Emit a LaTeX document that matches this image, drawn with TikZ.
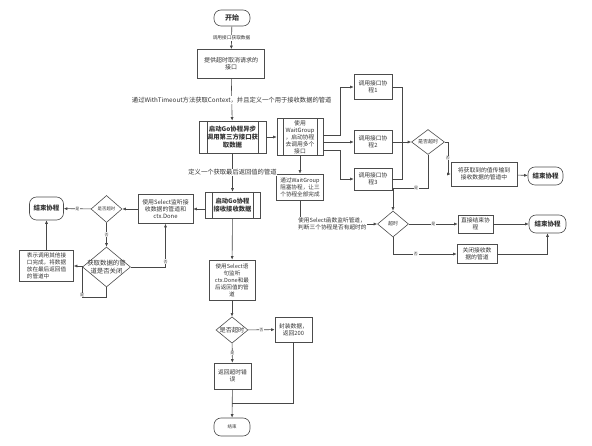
\documentclass[tikz,border=0pt]{standalone}
\usepackage{fontspec}
\setmainfont{Noto Sans CJK SC}
\usetikzlibrary{arrows.meta}
\usetikzlibrary{shapes.geometric}

\tikzset{
	box/.style={draw=black!70, line width=0.6pt, text=black!80, align=center,
		inner sep=1pt, font=\fontsize{6}{7.4}\selectfont},
	pill/.style={box, rounded corners=7pt, font=\fontsize{6.5}{7.5}\selectfont\bfseries},
	subproc/.style={box, path picture={
		\draw[draw=black!70, line width=0.6pt]
			([xshift=#1]path picture bounding box.north west) -- ([xshift=#1]path picture bounding box.south west)
			([xshift=-#1]path picture bounding box.north east) -- ([xshift=-#1]path picture bounding box.south east);}},
	subproc/.default=7pt,
	decide/.style={box, diamond, aspect=1.2, inner sep=0pt, font=\fontsize{5}{6}\selectfont},
	lbl/.style={fill=white, text=black!75, inner sep=0.6pt, font=\fontsize{4}{4.5}\selectfont},
	txt/.style={fill=white, text=black!80, inner sep=0.8pt, align=center, font=\fontsize{6.3}{7.5}\selectfont}
}

\begin{document}
\begin{tikzpicture}[x=1pt,y=-1pt,>={Latex[length=3.5pt,width=3pt]},line width=0.6pt,draw=black!72]
\useasboundingbox (0,0) rectangle (592,446);

\node[pill, minimum width=36, minimum height=16, font=\fontsize{7}{8}\selectfont\bfseries] (start) at (232,18) {开始};
\node[box, minimum width=67, minimum height=29] (provide) at (231,64) {提供超时取消请求的\\接口};
\node[subproc=8pt, minimum width=67, minimum height=32, font=\fontsize{6.4}{7.8}\selectfont\bfseries] (async) at (232.5,137) {启动Go协程异步\\调用第三方接口获\\取数据};
\node[subproc=6pt, minimum width=46, minimum height=37, font=\fontsize{5.8}{6.9}\selectfont] (waitgrp) at (300,137) {使用\\WaitGroup\\，启动协程\\去调用多个\\接口};
\node[box, minimum width=47, minimum height=26, font=\fontsize{5.6}{7}\selectfont] (block) at (300,187) {通过WaitGroup\\阻塞协程，让三\\个协程全部完成};

\node[box, minimum width=38, minimum height=25, font=\fontsize{5.8}{7.2}\selectfont] (call1) at (373,87) {调用接口协\\程1};
\node[box, minimum width=38, minimum height=23, font=\fontsize{5.8}{7.2}\selectfont] (call2) at (373,142) {调用接口协\\程2};
\node[box, minimum width=38, minimum height=22, font=\fontsize{5.8}{7.2}\selectfont] (call3) at (373,179) {调用接口协\\程3};
\node[decide, minimum width=33, minimum height=25] (chk) at (428,142) {是否超时};
\node[box, minimum width=66, minimum height=24, font=\fontsize{5.8}{7.2}\selectfont] (pass) at (484,174) {将获取到的值传输到\\接收数据的管道中};
\node[pill, minimum width=35, minimum height=18] (end1) at (545.5,176) {结束协程};

\node[decide, minimum width=31, minimum height=26] (tmo) at (393,224) {超时};
\node[box, minimum width=35, minimum height=18, font=\fontsize{5.8}{7}\selectfont] (direct) at (475.5,224) {直接结束协\\程};
\node[pill, minimum width=37, minimum height=18] (end2) at (547.5,224) {结束协程};
\node[box, minimum width=40, minimum height=19, font=\fontsize{5.8}{7}\selectfont] (close) at (477,254) {关闭接收数\\据的管道};

\node[subproc=7pt, minimum width=55, minimum height=26, font=\fontsize{6.3}{8}\selectfont\bfseries] (recv) at (232.5,205) {启动Go协程\\接收接收数据};
\node[box, minimum width=55, minimum height=29, font=\fontsize{5.9}{7.2}\selectfont] (sel) at (165.5,209) {使用Select监听接\\收数据的管道和\\ctx.Done};
\node[decide, minimum width=31, minimum height=27, font=\fontsize{4.4}{5}\selectfont] (chk2) at (106.5,209) {是否超时};
\node[pill, minimum width=34, minimum height=23] (end3) at (46.5,208.5) {结束协程};
\node[decide, minimum width=48, minimum height=40, inner xsep=-4pt, font=\fontsize{6.4}{8}\selectfont] (closed) at (106.5,267) {获取数据的管\\道是否关闭};
\node[box, align=left, minimum width=54, minimum height=31, font=\fontsize{5.6}{7}\selectfont] (notify) at (46.5,266) {表示调用其他接\\口完成，将数据\\放在最后返回值\\的管道中};

\node[box, minimum width=46, minimum height=40, font=\fontsize{5.6}{7}\selectfont] (sel2) at (232,280) {使用Select语\\句监听\\ctx.Done和最\\后返回值的管\\道};
\node[decide, minimum width=32, minimum height=24, font=\fontsize{6.2}{7}\selectfont] (chk3) at (232,330) {是否超时};
\node[box, minimum width=37, minimum height=25, font=\fontsize{5.8}{7.2}\selectfont] (pack) at (293.5,329.5) {封装数据，\\返回200};
\node[box, minimum width=37, minimum height=26, font=\fontsize{5.8}{7.2}\selectfont] (err) at (232.5,376) {返回超时错\\误};
\node[pill, minimum width=36, minimum height=18, font=\fontsize{4.5}{5}\selectfont] (end4) at (232,427) {结束};

\coordinate (up) at (340,135);
\coordinate (down) at (340,150);
\coordinate (merge) at (402,142);
\coordinate (join) at (232,403);

\draw[->] (start) -- node[txt, font=\fontsize{4.7}{5}\selectfont] {调用接口获取数据} (provide);
\draw[->] (provide) -- node[txt] {通过WithTimeout方法获取Context，并且定义一个用于接收数据的管道} (async);
\draw[->] (async) -- (waitgrp);
\draw[->] (waitgrp.east |- up) -- (up) |- (call1);
\draw[->] (waitgrp.east |- call2) -- (call2);
\draw[->] (waitgrp.east |- down) -- (down) |- (call3);
\draw (call1) -| (merge);
\draw (call3) -| (merge);
\draw[->] (call2) -- (chk);
\draw[->] (chk.east) -- ++(3,0) |- node[lbl, pos=0.25] {否} (pass);
\draw[->] (pass) -- (end1);
\draw (chk) |- node[lbl, pos=0.67] {是} (tmo.north |- 0,188);
\draw[->] (tmo.north |- 0,188) -- (tmo);
\draw[->] (waitgrp) -- (block);
\draw[->] (block) |- node[txt, pos=0.71, align=left, font=\fontsize{5.7}{7}\selectfont] {使用Select函数监听管道，\\判断三个协程是否有超时的} (tmo);
\draw[->] (tmo) -- node[lbl] {是} (direct);
\draw[->] (direct) -- (end2);
\draw[->] (tmo) |- node[lbl, pos=0.68] {否} (close);
\draw[->] (close) -| (end2);

\draw[->] (async) -- node[txt] {定义一个获取最后返回值的管道} (recv);
\draw[->] (recv.west |- sel) -- (sel);
\draw[->] (sel) -- (chk2);
\draw[->] (chk2) -- node[lbl] {是} (end3);
\draw[->] (chk2) -- node[lbl] {否} (closed);
\draw[->] (closed) -| node[lbl, pos=0.56] {否} (sel);
\draw[->] (closed) -- (closed |- 0,297) -| node[lbl, pos=0.53] {是} (82,266) -- (notify);
\draw[->] (notify) -- (end3);

\draw[->] (recv) -- (sel2);
\draw[->] (sel2) -- (chk3);
\draw[->] (chk3) -- node[lbl] {否} (pack);
\draw[->] (chk3) -- node[lbl] {是} (err);
\draw[->] (err) -- (end4);
\draw (pack) |- (join);

\end{tikzpicture}
\end{document}
